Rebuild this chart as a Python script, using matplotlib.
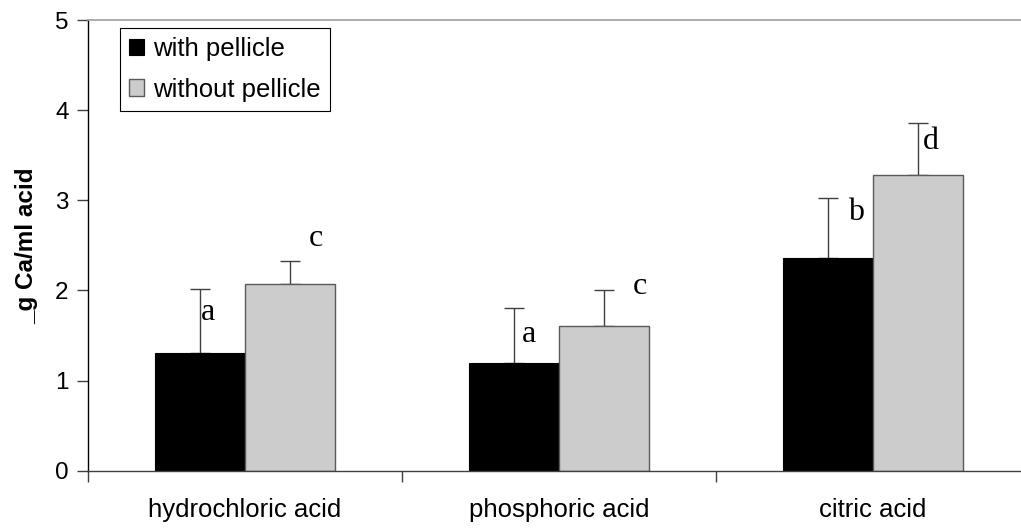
import matplotlib
matplotlib.use("Agg")
import matplotlib.pyplot as plt
import numpy as np

categories = ["hydrochloric acid", "phosphoric acid", "citric acid"]
with_pellicle = [1.31, 1.19, 2.36]
with_pellicle_err = [0.71, 0.62, 0.67]
without_pellicle = [2.07, 1.61, 3.28]
without_pellicle_err = [0.26, 0.39, 0.58]
series_names = ["with pellicle", "without pellicle"]
letters_with = ["a", "a", "b"]
letters_without = ["c", "c", "d"]
letters_with_y = [1.75, 1.51, 2.86]
letters_without_y = [2.58, 2.04, 3.65]
y_ticks = [0, 1, 2, 3, 4, 5]

W, H = 1021, 531
fig = plt.figure(figsize=(W / 100, H / 100), dpi=100)
left_px, right_px, top_px, bottom_px = 88, 1021, 20, 470.7
ax = fig.add_axes([left_px / W, (H - bottom_px) / H, (right_px - left_px) / W, (bottom_px - top_px) / H])

x = np.arange(len(categories))
bw = 0.2866
ax.bar(x - bw / 2, with_pellicle, width=bw, color="black", edgecolor="black", linewidth=0.8,
       label=series_names[0], zorder=2)
ax.bar(x + bw / 2, without_pellicle, width=bw, color="#cccccc", edgecolor="#5a5a5a", linewidth=1.0,
       label=series_names[1], zorder=2)
ax.errorbar(x - bw / 2, with_pellicle, yerr=[np.zeros(3), with_pellicle_err], fmt="none",
            ecolor="#404040", elinewidth=1.0, capsize=7.5, capthick=1.0, zorder=1)
ax.errorbar(x + bw / 2, without_pellicle, yerr=[np.zeros(3), without_pellicle_err], fmt="none",
            ecolor="#404040", elinewidth=1.0, capsize=7.5, capthick=1.0, zorder=1)

serif = ["Liberation Serif", "DejaVu Serif"]
with_off = [0.003, 0.025, 0.065]
without_off = [0.06, 0.09, 0.015]
for i in range(3):
    ax.text(x[i] - bw / 2 + with_off[i], letters_with_y[i], letters_with[i], family=serif,
            fontsize=23, ha="left", va="center", color="black")
    ax.text(x[i] + bw / 2 + without_off[i], letters_without_y[i], letters_without[i], family=serif,
            fontsize=23, ha="left", va="center", color="black")

ax.set_xlim(-0.5, (right_px - 245) / 314)
ax.set_ylim(0, 5)
ax.set_yticks(y_ticks)
ax.set_yticklabels([str(t) for t in y_ticks], fontsize=17.5, family="Liberation Sans")
ax.tick_params(axis="y", direction="out", length=8, width=1, color="#404040", pad=6)

ax.set_xticks([-0.5, 0.5, 1.5])
ax.set_xticklabels([])
ax.tick_params(axis="x", which="major", direction="out", length=8, width=1, color="#404040")
ax.set_xticks(x, minor=True)
ax.set_xticklabels(categories, minor=True, fontsize=18.5, family="Liberation Sans")
ax.tick_params(axis="x", which="minor", length=0, pad=20)

ax.spines["left"].set_color("black")
ax.spines["left"].set_linewidth(1.0)
ax.spines["bottom"].set_color("#404040")
ax.spines["bottom"].set_linewidth(1.0)
ax.spines["top"].set_color("#a0a0a0")
ax.spines["top"].set_linewidth(1.2)
ax.spines["right"].set_visible(False)

ax.set_ylabel("_g Ca/ml acid", fontsize=17.5, fontweight="bold", family="Liberation Sans", labelpad=12)

leg = ax.legend(loc="upper left", bbox_to_anchor=((120 - left_px) / (right_px - left_px), 1 - (28 - top_px) / (bottom_px - top_px)),
                frameon=True, fancybox=False, edgecolor="black", framealpha=1,
                prop={"family": "Liberation Sans", "size": 18.5}, handlelength=0.6, handleheight=0.6,
                handletextpad=0.35, labelspacing=0.65, borderpad=0.35, borderaxespad=0)
leg.get_frame().set_linewidth(0.8)

fig.savefig("out.png", dpi=100)
